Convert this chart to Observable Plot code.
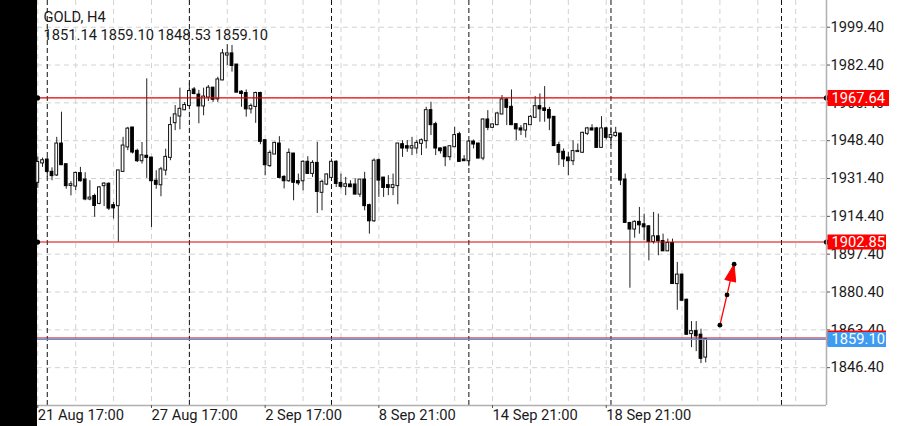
<!DOCTYPE html>
<html><head><meta charset="utf-8">
<script src="https://cdn.jsdelivr.net/npm/d3@7"></script>
<script src="https://cdn.jsdelivr.net/npm/@observablehq/plot@0.6"></script>
<style>
html,body{margin:0;padding:0;background:#fff;}
#chart svg{display:block;}
</style></head><body><div id="chart"></div>
<script>
const symbol = "GOLD", timeframe = "H4";
const opens  = [1929.7,1938.4,1939.7,1934.2,1933.0,1946.9,1937.6,1928.3,1928.0,1933.6,1930.7,1922.2,1923.3,1920.2,1928.2,1928.8,1919.2,1919.2,1934.6,1945.6,1954.1,1943.6,1939.4,1941.4,1940.6,1930.2,1928.6,1935.2,1940.9,1956.5,1959.5,1962.3,1964.2,1971.2,1968.9,1964.0,1968.0,1972.0,1967.2,1975.7,1986.9,1987.4,1982.4,1970.2,1969.6,1962.7,1963.8,1969.6,1948.4,1937.2,1942.4,1946.9,1931.9,1930.4,1942.4,1930.0,1930.4,1938.7,1933.7,1938.2,1925.2,1928.9,1931.9,1938.7,1929.2,1927.9,1928.5,1928.5,1924.4,1930.7,1919.2,1912.4,1939.4,1931.6,1928.2,1927.4,1928.2,1946.6,1945.7,1945.1,1945.1,1947.2,1948.4,1961.9,1955.6,1944.7,1945.1,1941.2,1945.7,1951.1,1939.7,1939.4,1947.8,1946.9,1940.6,1957.7,1954.4,1955.6,1960.4,1966.7,1963.4,1955.6,1953.7,1953.2,1955.6,1958.9,1963.7,1962.7,1962.0,1958.9,1946.2,1943.2,1940.6,1939.4,1943.5,1943.2,1951.7,1953.7,1953.7,1945.4,1953.7,1949.9,1950.7,1951.4,1930.7,1911.2,1908.7,1911.7,1910.6,1909.7,1903.1,1905.2,1903.1,1898.9,1902.2,1884.2,1888.0,1876.7,1861.7,1862.6,1861.0,1851.14];
const highs  = [1941.0,1940.6,1940.9,1936.2,1949.9,1961.2,1937.9,1930.0,1934.2,1936.4,1934.0,1930.4,1924.4,1927.8,1929.5,1929.5,1920.6,1935.1,1949.9,1954.4,1954.4,1944.6,1947.6,1976.2,1940.9,1934.9,1936.4,1944.6,1958.9,1964.2,1972.0,1965.5,1974.0,1972.3,1971.0,1972.0,1973.2,1972.4,1976.9,1989.4,1991.6,1991.2,1982.5,1970.9,1971.2,1964.9,1970.2,1970.2,1948.4,1943.9,1947.7,1950.2,1932.7,1944.7,1942.7,1933.4,1939.4,1941.2,1939.4,1947.7,1930.7,1933.4,1940.2,1939.4,1933.4,1931.9,1930.4,1931.2,1930.7,1934.2,1919.9,1940.2,1940.2,1931.9,1932.7,1933.4,1946.9,1948.4,1948.4,1949.9,1948.4,1949.2,1963.4,1965.7,1956.7,1945.1,1945.7,1945.7,1954.4,1952.2,1941.7,1948.4,1948.7,1947.2,1958.2,1961.9,1955.9,1961.2,1968.7,1967.2,1971.2,1955.9,1955.2,1955.9,1959.7,1968.2,1969.4,1972.7,1963.4,1958.9,1947.7,1944.7,1943.2,1948.4,1946.9,1952.2,1954.4,1955.6,1954.4,1959.2,1954.4,1954.4,1954.4,1951.7,1933.4,1911.7,1912.4,1918.4,1915.4,1910.2,1916.2,1915.4,1906.4,1904.2,1904.2,1893.7,1888.4,1877.2,1867.1,1867.1,1863.7,1859.10];
const lows   = [1927.0,1936.4,1932.0,1930.4,1932.3,1937.2,1926.6,1923.6,1926.0,1929.8,1921.4,1921.4,1914.0,1919.6,1918.8,1917.0,1913.2,1902.7,1934.2,1943.9,1942.4,1938.6,1937.9,1931.5,1909.4,1926.6,1923.2,1932.6,1939.4,1952.9,1953.3,1961.9,1963.4,1969.0,1956.0,1959.6,1966.0,1965.6,1965.6,1975.4,1982.2,1979.2,1970.2,1963.4,1959.0,1960.4,1956.2,1946.6,1932.7,1936.4,1942.4,1931.2,1926.7,1929.7,1921.4,1928.2,1925.9,1933.4,1931.9,1915.7,1916.9,1928.2,1931.6,1927.4,1926.7,1923.7,1927.4,1924.1,1922.9,1916.9,1906.4,1911.7,1922.9,1922.9,1923.7,1923.7,1919.6,1940.9,1943.2,1941.7,1942.4,1941.7,1944.7,1950.7,1941.7,1942.4,1936.7,1939.4,1945.4,1938.7,1939.1,1936.7,1944.7,1940.2,1939.4,1952.9,1954.1,1955.2,1960.1,1955.2,1955.2,1948.4,1950.7,1949.6,1955.2,1958.6,1956.7,1956.7,1952.9,1946.2,1937.2,1936.4,1932.7,1937.2,1943.2,1942.7,1950.7,1952.9,1945.1,1945.4,1948.7,1946.2,1949.9,1928.2,1911.2,1882.1,1904.6,1906.4,1903.4,1894.4,1901.9,1896.7,1898.6,1898.6,1883.9,1872.2,1876.4,1861.4,1855.4,1853.6,1848.2,1848.53];
const closes = [1938.6,1939.4,1934.6,1932.7,1946.9,1937.6,1928.2,1928.6,1933.7,1930.4,1922.2,1922.6,1919.3,1927.2,1928.9,1918.1,1918.2,1934.8,1946.0,1953.6,1943.3,1939.4,1941.6,1940.9,1930.4,1928.8,1935.3,1940.9,1955.2,1960.0,1962.5,1964.2,1970.5,1969.6,1964.0,1968.0,1972.0,1967.0,1975.7,1987.4,1987.4,1982.2,1970.2,1969.6,1962.7,1963.8,1969.6,1948.1,1937.6,1942.7,1947.2,1931.9,1930.4,1942.7,1929.7,1929.4,1938.7,1933.7,1938.2,1925.6,1929.7,1933.0,1938.7,1929.2,1927.9,1928.6,1927.7,1924.4,1930.7,1919.2,1912.4,1939.2,1930.7,1927.4,1927.4,1928.2,1946.9,1945.1,1945.1,1945.7,1947.2,1948.4,1961.9,1955.6,1945.1,1943.9,1941.2,1945.7,1950.7,1939.1,1939.4,1947.8,1946.9,1940.6,1957.7,1954.4,1955.5,1960.4,1966.7,1963.4,1955.6,1953.7,1953.2,1955.6,1958.9,1963.7,1962.7,1962.0,1958.6,1946.2,1943.2,1940.2,1939.4,1943.5,1943.6,1951.7,1953.7,1953.2,1945.4,1953.7,1949.9,1950.7,1951.7,1930.7,1911.7,1908.7,1911.7,1910.6,1909.7,1903.1,1905.2,1903.4,1898.9,1902.2,1884.2,1888.0,1876.7,1861.4,1862.6,1860.7,1850.6,1859.10];

const xTickBars   = [0, 24, 48, 72, 96, 120];
const xTickLabels = ["21 Aug 17:00", "27 Aug 17:00", "2 Sep 17:00", "8 Sep 21:00", "14 Sep 21:00", "18 Sep 21:00"];
const yTicks = [1846.40, 1863.40, 1880.40, 1897.40, 1914.40, 1931.40, 1948.40, 1965.40, 1982.40, 1999.40];
const gridBars = [0, 8, 16, 24, 32, 40, 48, 56, 64, 72, 80, 88, 96, 104, 112, 120, 128, 136, 144, 152, 160];
const weekStarts = [2, 32, 62, 91, 121, 157];
const levels = [1967.64, 1902.85];
const bid = 1859.10, ask = 1859.75;
const arrowBars = [144, 145.5, 147];
const arrowPrices = [1865.5, 1879.1, 1892.9];

const bars = opens.map((o, i) => ({i, open: o, high: highs[i], low: lows[i], close: closes[i]}));
const xDomain = [-0.063, 166.5];
const yDomain = [1829.4, 2011.4];
const barPx = 789 / (xDomain[1] - xDomain[0]);
const boxL = xDomain[1] + 1.5 / barPx, boxR = xDomain[1] + 63 / barPx;
const hw = 0.29;
const fs = 14.7;
const font = "Roboto, 'Noto Sans', sans-serif";
const arrowPts = arrowBars.map((b, k) => ({b, p: arrowPrices[k]}));
const levelEnds = levels.flatMap(p => [{b: xDomain[0], p}, {b: xDomain[1], p}]);
const last = bars[bars.length - 1];

const chart = Plot.plot({
  width: 900, height: 426,
  marginLeft: 37, marginRight: 74, marginTop: 0, marginBottom: 21,
  x: {type: "linear", domain: xDomain, axis: null},
  y: {domain: yDomain, axis: null},
  style: {fontFamily: font, fontSize: fs + "px", background: "linear-gradient(to right,#000 0,#000 37px,#fff 37px)", overflow: "visible"},
  marks: [
    Plot.ruleY(yTicks, {stroke: "#d2d2d2", strokeDasharray: "5,4"}),
    Plot.ruleX(gridBars, {stroke: "#d2d2d2", strokeDasharray: "5,4"}),
    Plot.ruleX(weekStarts, {stroke: "#111", strokeDasharray: "5,3"}),
    Plot.ruleX(bars, {x: "i", y1: "low", y2: "high", stroke: "#222", strokeWidth: 1}),
    Plot.rect(bars.filter(d => d.close >= d.open), {x1: d => d.i - hw, x2: d => d.i + hw, y1: "open", y2: "close", fill: "#fff", stroke: "#111", insetTop: -0.5, insetBottom: -0.5}),
    Plot.rect(bars.filter(d => d.close < d.open), {x1: d => d.i - hw, x2: d => d.i + hw, y1: "open", y2: "close", fill: "#000", stroke: "#000", insetTop: -0.5, insetBottom: -0.5}),
    Plot.ruleY(levels, {stroke: "#e00000", strokeWidth: 1.1}),
    Plot.ruleY([ask], {stroke: "#e00000", strokeWidth: 1.1}),
    Plot.ruleY([bid], {stroke: "#4a9ae6", strokeWidth: 1.1}),
    Plot.dot(levelEnds, {x: "b", y: "p", r: 2.6, fill: "#000"}),
    Plot.line(arrowPts, {x: "b", y: "p", stroke: "#ff0000", strokeWidth: 1.3}),
    Plot.vector([arrowPts[arrowPts.length - 1]], {x: "b", y: "p", length: 17, rotate: 13, anchor: "end", fill: "#ff0000", stroke: "#ff0000", strokeWidth: 1,
      shape: {draw(context, l) { context.moveTo(0, -l); context.lineTo(-5.5, 0); context.lineTo(5.5, 0); context.closePath(); }}}),
    Plot.dot(arrowPts, {x: "b", y: "p", r: 2.4, fill: "#000"}),
    Plot.ruleY([yDomain[0]], {stroke: "#b0b0b0", strokeWidth: 1.5}),
    Plot.ruleX([xDomain[1]], {stroke: "#b0b0b0", strokeWidth: 1.5}),
    Plot.axisY(yTicks, {anchor: "right", tickSize: 3, tickPadding: 1, tickFormat: d => d.toFixed(2), fontSize: fs, fill: "#1a1a1a", stroke: "#555"}),
    Plot.axisX(xTickBars, {anchor: "bottom", tickSize: 3, tickPadding: 1, tickFormat: d => xTickLabels[xTickBars.indexOf(d)], textAnchor: "start", fontSize: fs, fill: "#1a1a1a", stroke: "#555"}),
    Plot.ruleY([levels[0]], {x1: boxL, x2: boxR, stroke: "#ff0000", strokeWidth: 16}),
    Plot.ruleY([levels[1]], {x1: boxL, x2: boxR - 3 / barPx, stroke: "#ff0000", strokeWidth: 15}),
    Plot.ruleY([ask], {x1: boxL, x2: boxR - 3 / barPx, stroke: "#ff0000", strokeWidth: 15}),
    Plot.ruleY([bid], {x1: boxL, x2: boxR - 3 / barPx, stroke: "#3d9cf2", strokeWidth: 15}),
    Plot.text(levels, {x: xDomain[1], y: d => d, text: d => d.toFixed(2), dx: 5, textAnchor: "start", fill: "#fff", fontSize: fs}),
    Plot.text([bid], {x: xDomain[1], y: d => d, text: d => d.toFixed(2), dx: 5, textAnchor: "start", fill: "#fff", fontSize: fs}),
    Plot.text([`${symbol}, ${timeframe}`], {frameAnchor: "top-left", dx: 6, dy: 11.5, lineAnchor: "top", textAnchor: "start", fill: "#1a1a1a", fontSize: fs}),
    Plot.text([[last.open, last.high, last.low, last.close].map(v => v.toFixed(2)).join(" ")], {frameAnchor: "top-left", dx: 6, dy: 29.5, lineAnchor: "top", textAnchor: "start", fill: "#1a1a1a", fontSize: fs})
  ]
});
document.getElementById("chart").append(chart);
</script></body></html>
